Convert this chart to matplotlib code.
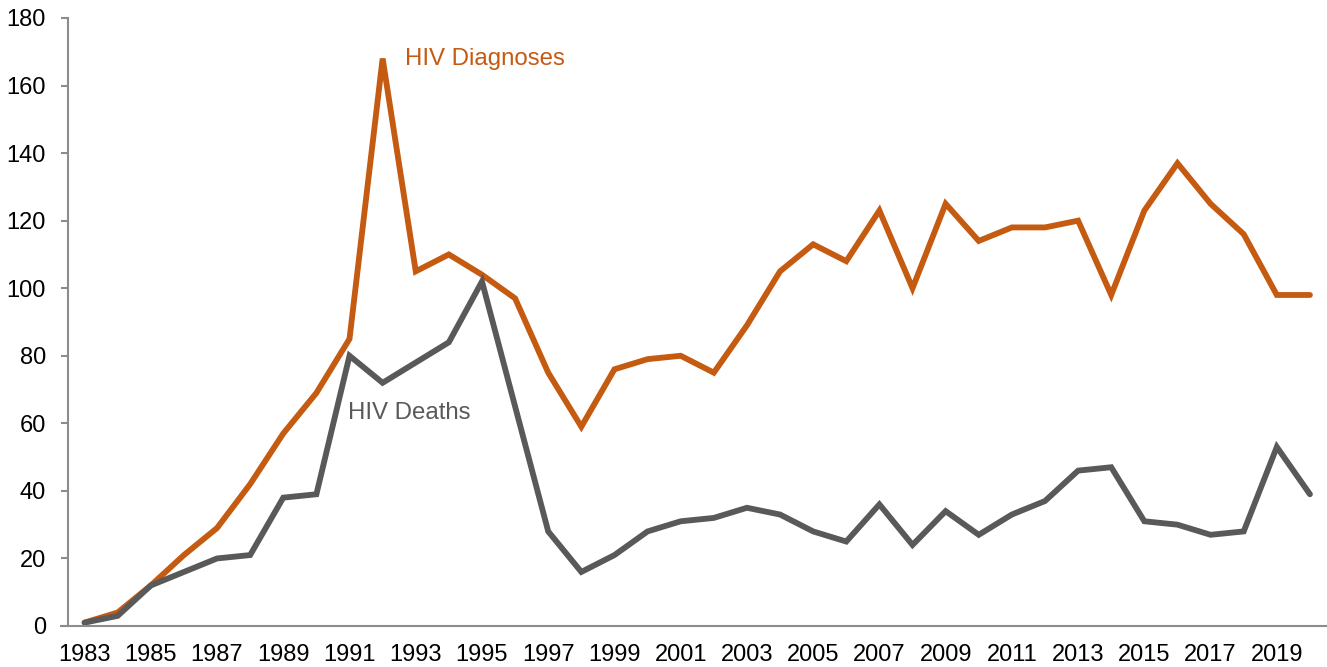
import matplotlib
matplotlib.use("Agg")
import matplotlib.pyplot as plt

plt.rcParams['font.family'] = ['Liberation Sans', 'DejaVu Sans']

years = list(range(1983, 2021))
diagnoses = [1, 4, 12, 21, 29, 42, 57, 69, 85, 168,
             105, 110, 104, 97, 75, 59, 76, 79, 80, 75,
             89, 105, 113, 108, 123, 100, 125, 114, 118, 118,
             120, 98, 123, 137, 125, 116, 98, 98]
deaths = [1, 3, 12, 16, 20, 21, 38, 39, 80, 72,
          78, 84, 102, 65, 28, 16, 21, 28, 31, 32,
          35, 33, 28, 25, 36, 24, 34, 27, 33, 37,
          46, 47, 31, 30, 27, 28, 53, 39]
xtick_labels = [str(y) for y in range(1983, 2020, 2)]
yticks = list(range(0, 181, 20))

orange = '#C55A11'
gray = '#595959'

W, H = 1327, 667
fig = plt.figure(figsize=(W / 100, H / 100), dpi=100)
ax = fig.add_axes([68 / W, 1 - 626 / H, (1326.5 - 68) / W, (626 - 18) / H])

ax.plot(years, diagnoses, color=orange, lw=4.2, solid_joinstyle='miter', solid_capstyle='round', clip_on=False)
ax.plot(years, deaths, color=gray, lw=4.2, solid_joinstyle='miter', solid_capstyle='round', clip_on=False)

ax.set_xlim(1982.5, 2020.5)
ax.set_ylim(0, 180)
ax.set_yticks(yticks)
ax.set_yticklabels([str(v) for v in yticks])
ax.set_xticks(list(range(1983, 2020, 2)))
ax.set_xticklabels(xtick_labels)

for s in ['top', 'right']:
    ax.spines[s].set_visible(False)
for s in ['left', 'bottom']:
    ax.spines[s].set_color('#8c8c8c')
    ax.spines[s].set_linewidth(1.5)
ax.spines['bottom'].set_bounds(1982.3, 2020.5)

ax.tick_params(axis='y', direction='out', length=5, width=1.5, color='#8c8c8c',
               labelsize=17, pad=11, labelcolor='#000000')
ax.tick_params(axis='x', length=0, labelsize=17, pad=13, labelcolor='#000000')

ax.text(1992.67, 167.9, 'HIV Diagnoses', color=orange, fontsize=17.3, va='center', ha='left')
ax.text(1990.95, 63, 'HIV Deaths', color=gray, fontsize=17.3, va='center', ha='left')

fig.savefig('out.png', dpi=100)
